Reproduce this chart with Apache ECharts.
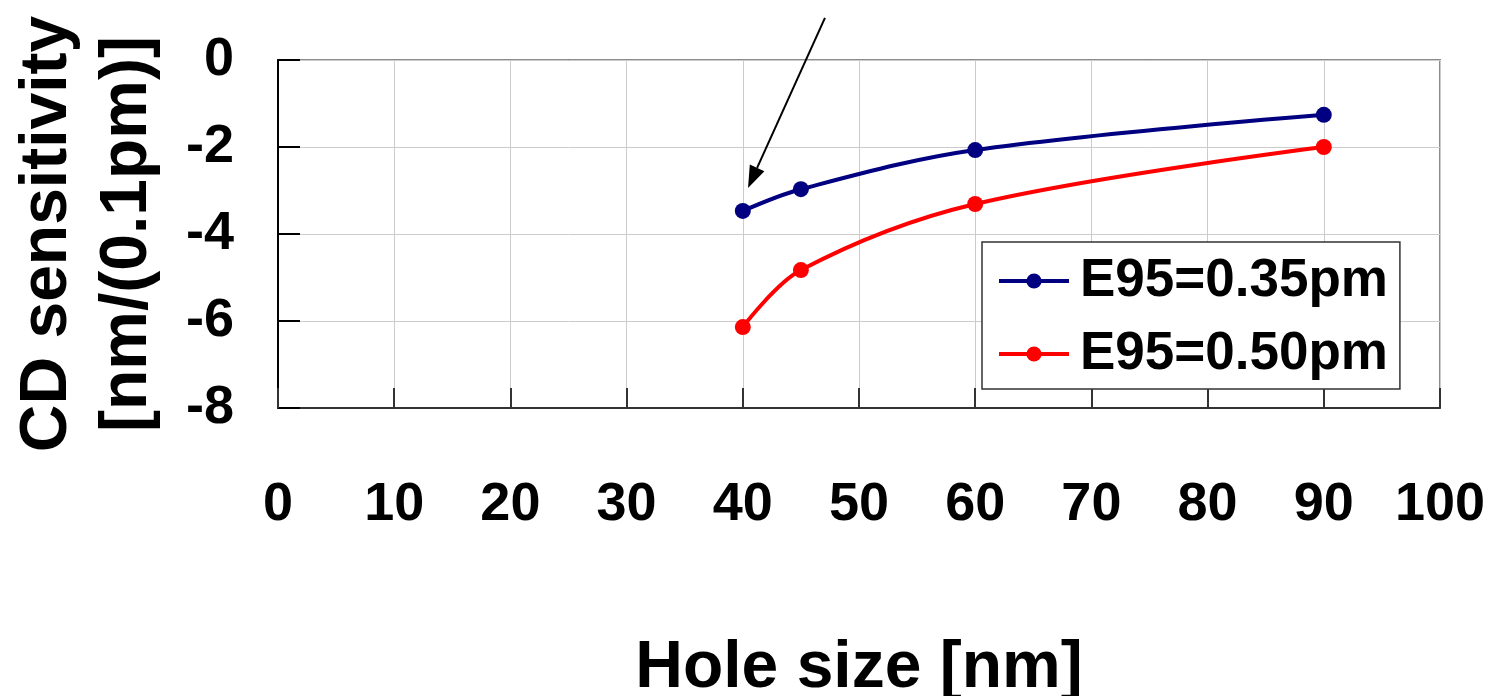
<!DOCTYPE html>
<html>
<head>
<meta charset="utf-8">
<script src="https://cdn.jsdelivr.net/npm/echarts@6/dist/echarts.min.js"></script>
<style>html,body{margin:0;padding:0;background:#fff}#c{width:1495px;height:696px}</style>
</head>
<body>
<div id="c"></div>
<script>
const holeSize = [40, 45, 60, 90];
const e95_035 = [-3.47, -2.97, -2.07, -1.26];
const e95_050 = [-6.14, -4.83, -3.31, -2.0];
const seriesNames = ['E95=0.35pm', 'E95=0.50pm'];
const xTicks = { min: 0, max: 100, interval: 10 };
const yTicks = { min: -8, max: 0, interval: 2 };
const arrowFrom = [47.07, 0.97];
const arrowTo = [40.45, -2.94];

const FONT = '"Liberation Sans", Arial, sans-serif';
const chart = echarts.init(document.getElementById('c'));
const pair = (xs, ys) => xs.map((x, i) => [x, ys[i]]);
const colors = ['#000080', '#ff0000'];

chart.setOption({
  animation: false,
  backgroundColor: '#fff',
  grid: { left: 278, right: 55, top: 60, bottom: 288, containLabel: false, outerBoundsMode: 'none',
          show: true, borderColor: '#8c8c8c', borderWidth: 2, backgroundColor: 'transparent' },
  xAxis: {
    type: 'value', min: xTicks.min, max: xTicks.max, interval: xTicks.interval,
    name: 'Hole size [nm]', nameLocation: 'middle', nameGap: 228,
    nameTextStyle: { fontFamily: FONT, fontWeight: 'bold', fontSize: 66, color: '#000' },
    axisLine: { onZero: false, lineStyle: { color: '#333', width: 2 } },
    axisTick: { inside: true, length: 20, lineStyle: { color: '#333', width: 2 } },
    axisLabel: { margin: 70, fontFamily: FONT, fontWeight: 'bold', fontSize: 54, color: '#000' },
    splitLine: { show: true, lineStyle: { color: '#cccccc', width: 1 } }
  },
  yAxis: {
    type: 'value', min: yTicks.min, max: yTicks.max, interval: yTicks.interval,
    name: 'CD sensitivity\n[nm/(0.1pm)]', nameLocation: 'middle', nameGap: 110, nameRotate: 90,
    nameTextStyle: { fontFamily: FONT, fontWeight: 'bold', fontSize: 66, color: '#000', lineHeight: 80 },
    axisLine: { onZero: false, lineStyle: { color: '#000', width: 2 } },
    axisTick: { inside: true, length: 22, lineStyle: { color: '#000', width: 2 } },
    axisLabel: { margin: 44, fontFamily: FONT, fontWeight: 'bold', fontSize: 54, color: '#000' },
    splitLine: { show: true, lineStyle: { color: '#cccccc', width: 1 } }
  },
  legend: {
    left: 982, top: 242, orient: 'vertical',
    backgroundColor: '#fff', borderColor: '#333', borderWidth: 1.5,
    padding: [11, 12, 7, 15], itemGap: 17, itemWidth: 70, itemHeight: 19,
    textStyle: { fontFamily: FONT, fontWeight: 'bold', fontSize: 53, color: '#000', lineHeight: 56, padding: [0, 0, 0, 6] },
    data: seriesNames.map((n, i) => ({ name: n, lineStyle: { width: 4, color: colors[i] }, itemStyle: { color: colors[i] } }))
  },
  series: [
    { name: seriesNames[0], type: 'line', data: pair(holeSize, e95_035), smooth: 0.35, z: 3,
      color: colors[0], symbol: 'circle', symbolSize: 16, lineStyle: { width: 4, color: colors[0] }, itemStyle: { color: colors[0] } },
    { name: seriesNames[1], type: 'line', data: pair(holeSize, e95_050), smooth: 0.35, z: 3,
      color: colors[1], symbol: 'circle', symbolSize: 16, lineStyle: { width: 4, color: colors[1] }, itemStyle: { color: colors[1] } }
  ]
});

const p0 = chart.convertToPixel({ gridIndex: 0 }, arrowFrom);
const p1 = chart.convertToPixel({ gridIndex: 0 }, arrowTo);
const ang = Math.atan2(p1[1] - p0[1], p1[0] - p0[0]);
const L = 22, W = 8;
const bx = p1[0] - L * Math.cos(ang), by = p1[1] - L * Math.sin(ang);
const nx = -Math.sin(ang), ny = Math.cos(ang);
chart.setOption({
  graphic: [
    { type: 'line', shape: { x1: p0[0], y1: p0[1], x2: bx, y2: by }, style: { stroke: '#000', lineWidth: 2 }, z: 100 },
    { type: 'polygon', shape: { points: [[p1[0], p1[1]], [bx + nx * W, by + ny * W], [bx - nx * W, by - ny * W]] }, style: { fill: '#000' }, z: 100 }
  ]
});
</script>
</body>
</html>
